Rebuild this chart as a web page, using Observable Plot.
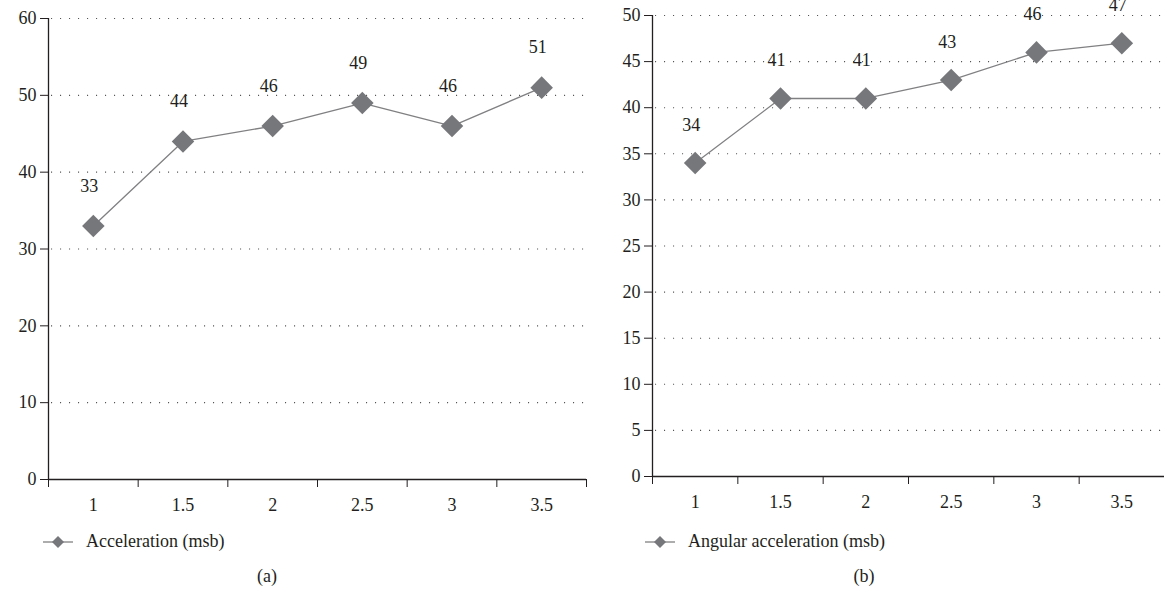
<!DOCTYPE html>
<html>
<head>
<meta charset="utf-8">
<script src="https://cdn.jsdelivr.net/npm/d3@7"></script>
<script src="https://cdn.jsdelivr.net/npm/@observablehq/plot@0.6"></script>
<style>
  html, body { margin: 0; padding: 0; background: #fff; }
  #root { position: relative; width: 1164px; height: 599px; overflow: hidden; font-family: "Liberation Serif", "DejaVu Serif", serif; color: #231f20; }
  .panel { position: absolute; top: 0; }
  .panel svg text { font-family: "Liberation Serif", "DejaVu Serif", serif !important; }
  .legend { position: absolute; display: flex; align-items: center; font-size: 18px; white-space: nowrap; }
  .legend svg { margin-right: 13px; }
  .caption { position: absolute; font-size: 18px; transform: translateX(-50%); }
</style>
</head>
<body>
<div id="root"></div>
<script>
// ---- data ----
const xValues = [1, 1.5, 2, 2.5, 3, 3.5];
const xTickLabels = ["1", "1.5", "2", "2.5", "3", "3.5"];
const accelerationValues = [33, 44, 46, 49, 46, 51];
const angularValues = [34, 41, 41, 43, 46, 47];
const seriesNames = ["Acceleration (msb)", "Angular acceleration (msb)"];
const captions = ["(a)", "(b)"];
const yTicksA = [0, 10, 20, 30, 40, 50, 60];
const yTicksB = [0, 5, 10, 15, 20, 25, 30, 35, 40, 45, 50];

const FONT = '"Liberation Serif", "DejaVu Serif", serif';
const FS = 18;
const INK = "#231f20";
const MARK = "#76777a";
const LINE = "#808083";

function panel(values, yTicks, opts) {
  const data = xValues.map((x, i) => ({x, v: values[i]}));
  const xMin = xValues[0] - 0.25, xMax = xValues[xValues.length - 1] + 0.25;
  const boundaries = d3.range(xValues.length + 1).map(i => xMin + i * 0.5);
  const yMax = yTicks[yTicks.length - 1];
  return Plot.plot({
    width: opts.width,
    height: opts.height,
    marginLeft: opts.marginLeft,
    marginRight: opts.marginRight,
    marginTop: opts.marginTop,
    marginBottom: opts.marginBottom,
    style: {fontFamily: FONT, fontSize: FS + "px", color: INK, background: "transparent", overflow: "visible"},
    x: {domain: [xMin, xMax], axis: null},
    y: {domain: [0, yMax], axis: null},
    marks: [
      Plot.gridY(yTicks.filter(d => d > 0), {stroke: "#555", strokeOpacity: 1, strokeWidth: 1.1, strokeDasharray: "1.1,7.9", strokeDashoffset: -12}),
      Plot.axisY({ticks: yTicks, tickSize: 8, tickPadding: 4, label: null, tickFormat: d => String(d), stroke: INK, fill: INK, fontSize: FS, fontFamily: FONT}),
      Plot.ruleX([xMin], {y1: 0, y2: yMax, stroke: INK, strokeWidth: 1.3}),
      Plot.ruleY([0], {stroke: INK, strokeWidth: 1.3}),
      Plot.axisX({ticks: boundaries, tickSize: 8, label: null, tickFormat: () => "", stroke: INK}),
      Plot.axisX({ticks: xValues, tickSize: 0, tickPadding: 19, label: null, tickFormat: d => xTickLabels[xValues.indexOf(d)], fill: INK, fontSize: FS, fontFamily: FONT}),
      Plot.line(data, {x: "x", y: "v", stroke: LINE, strokeWidth: 1.3}),
      Plot.dot(data, {x: "x", y: "v", symbol: "square", r: 9, rotate: 45, fill: MARK, stroke: "none"}),
      Plot.text(data, {x: "x", y: "v", text: d => String(d.v), dy: opts.labelDy, dx: -4, fill: INK, fontSize: FS, fontFamily: FONT})
    ]
  });
}

const root = document.getElementById("root");

const a = panel(accelerationValues, yTicksA, {width: 590, height: 519, marginLeft: 48, marginRight: 4, marginTop: 18, marginBottom: 40, labelDy: -40});
const da = document.createElement("div"); da.className = "panel"; da.style.left = "0px"; da.appendChild(a); root.appendChild(da);

const b = panel(angularValues, yTicksB, {width: 584, height: 519, marginLeft: 72, marginRight: 0, marginTop: 15, marginBottom: 43, labelDy: -38});
const db = document.createElement("div"); db.className = "panel"; db.style.left = "580px"; db.appendChild(b); root.appendChild(db);

function legend(name, left, top) {
  const div = document.createElement("div");
  div.className = "legend";
  div.style.left = left + "px";
  div.style.top = top + "px";
  div.innerHTML = `<svg width="30" height="14"><line x1="0" x2="30" y1="7" y2="7" stroke="${LINE}" stroke-width="1.3"/><path d="M15,1 L21,7 L15,13 L9,7 Z" fill="${MARK}"/></svg>`;
  const span = document.createElement("span"); span.textContent = name; div.appendChild(span);
  root.appendChild(div);
}
legend(seriesNames[0], 43, 531);
legend(seriesNames[1], 645, 531);

function caption(text, cx, top) {
  const div = document.createElement("div");
  div.className = "caption";
  div.style.left = cx + "px";
  div.style.top = top + "px";
  div.textContent = text;
  root.appendChild(div);
}
caption(captions[0], 267, 566);
caption(captions[1], 864, 566);
</script>
</body>
</html>
